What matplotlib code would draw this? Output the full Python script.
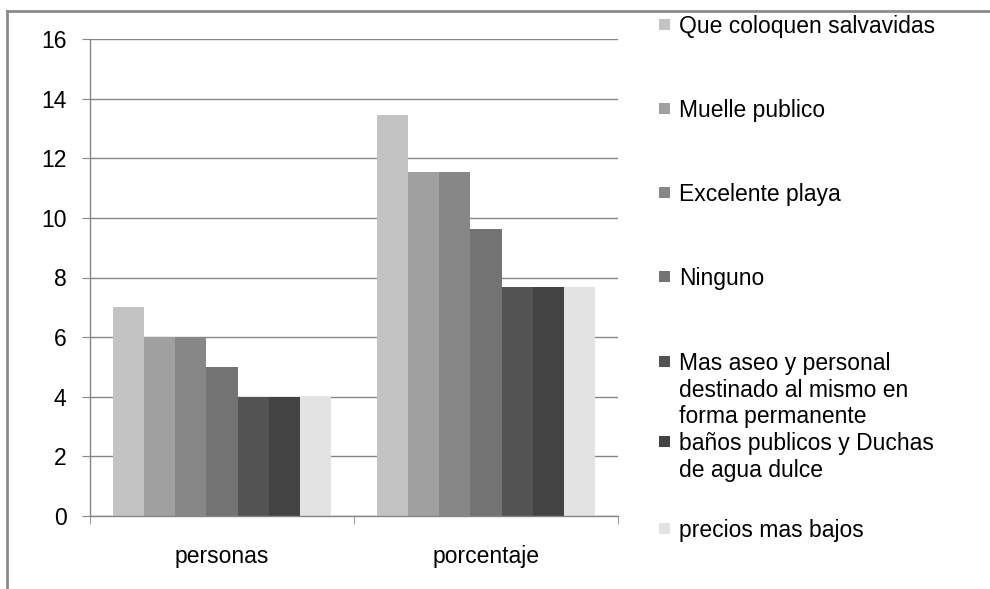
import numpy as np
import matplotlib
matplotlib.use("Agg")
import matplotlib.pyplot as plt
from matplotlib.lines import Line2D
from matplotlib.patches import Rectangle

plt.rcParams["font.family"] = ["Liberation Sans", "DejaVu Sans"]

categories = ["personas", "porcentaje"]
series_labels = [
    "Que coloquen salvavidas",
    "Muelle publico",
    "Excelente playa",
    "Ninguno",
    "Mas aseo y personal\ndestinado al mismo en\nforma permanente",
    "baños publicos y Duchas\nde agua dulce",
    "precios mas bajos",
]
personas = [7, 6, 6, 5, 4, 4, 4]
porcentaje = [13.46, 11.54, 11.54, 9.62, 7.69, 7.69, 7.69]
bar_colors = ["#C3C3C3", "#A0A0A0", "#878787", "#737373", "#535353", "#434343", "#E3E3E3"]

FS = 16.5

fig = plt.figure(figsize=(9.9, 5.89), dpi=100, facecolor="white")
ax = fig.add_axes((90 / 990, 1 - 516 / 589, 528 / 990, 477 / 589))

x = np.arange(len(categories))
width = 0.1175
n = len(series_labels)
for i in range(n):
    vals = [personas[i], porcentaje[i]]
    ax.bar(x + (i - (n - 1) / 2) * width, vals, width, color=bar_colors[i],
           linewidth=0, zorder=2)

ax.set_xlim(-0.5, 1.5)
ax.set_ylim(0, 16)
ax.set_yticks(range(0, 17, 2))
ax.grid(True, axis="y", color="#868686", linewidth=1.0, zorder=0)
ax.set_xticks(x)
ax.set_xticklabels(categories, fontsize=FS)
ax.set_xticks([-0.5, 0.5, 1.5], minor=True)
ax.tick_params(axis="x", which="major", length=0, pad=21)
ax.tick_params(axis="x", which="minor", length=6, color="#868686", direction="out")
ax.tick_params(axis="y", length=6, color="#868686", direction="out", labelsize=FS, pad=11)

for side in ["top", "right"]:
    ax.spines[side].set_visible(False)
for side in ["left", "bottom"]:
    ax.spines[side].set_color("#868686")
    ax.spines[side].set_linewidth(1.0)

# outer frame (left and top edges only)
fig.add_artist(Line2D([7 / 990, 7 / 990], [0, 1 - 11 / 589], color="#8C8C8C", linewidth=2,
                      transform=fig.transFigure))
fig.add_artist(Line2D([7 / 990, 1], [1 - 11 / 589, 1 - 11 / 589], color="#8C8C8C", linewidth=2,
                      transform=fig.transFigure))

# legend, one slot per series, first text line centred on the marker
slot_y = [25, 109, 193, 277, 362, 442, 529]
for label, color, y in zip(series_labels, bar_colors, slot_y):
    fig.add_artist(Rectangle((659 / 990, 1 - (y + 5) / 589), 11 / 990, 11 / 589,
                             facecolor=color, edgecolor="none", transform=fig.transFigure))
    fig.text(679 / 990, 1 - (y - 10) / 589, label, fontsize=FS, va="top", ha="left",
             linespacing=1.2)

fig.savefig("out.png", dpi=100)
